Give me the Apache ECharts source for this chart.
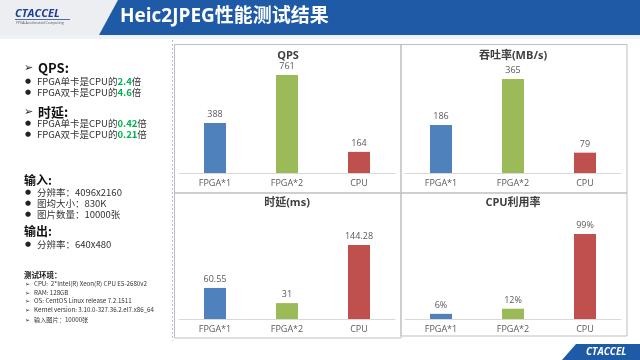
<!DOCTYPE html>
<html><head><meta charset="utf-8">
<script src="https://cdn.jsdelivr.net/npm/echarts@6/dist/echarts.min.js"></script>
<style>html,body{margin:0;padding:0;background:#fff}#c{width:640px;height:360px}</style>
</head><body><div id="c"></div>
<script>
const categories = ['FPGA*1', 'FPGA*2', 'CPU'];
const qps = [388, 761, 164];
const throughput = [186, 365, 79];
const latency = [60.55, 31, 144.28];
const cpuUsage = [6, 12, 99];
const chartTitles = ['QPS', '吞吐率(MB/s)', '时延(ms)', 'CPU利用率'];
const barColors = ['#4F81BD', '#9BBB59', '#C0504D'];

const FONT = '"Open Sans","Noto Sans CJK SC",sans-serif';
const CJK = '"Noto Sans CJK SC",sans-serif';

const chart = echarts.init(document.getElementById('c'), null, {renderer: 'canvas'});

const grids = [
  {left: 179, width: 216, top: 63.5, height: 109.5},
  {left: 405, width: 216, top: 64.8, height: 108.2},
  {left: 179, width: 216, top: 226.7, height: 92.3},
  {left: 405, width: 216, top: 224.6, height: 94.4}
];
const maxes = [850, 420, 180, 110];
const seriesData = [qps, throughput, latency, cpuUsage];
const fmts = ['{c}', '{c}', '{c}', '{c}%'];

const xAxes = grids.map((g, i) => ({
  type: 'category', gridIndex: i, data: categories,
  axisLine: {show: true, lineStyle: {color: '#d9d9d9', width: 1}},
  axisTick: {show: false},
  axisLabel: {color: '#595959', fontSize: 9, fontFamily: FONT, margin: 6},
  splitLine: {show: false}
}));
const yAxes = grids.map((g, i) => ({
  type: 'value', gridIndex: i, min: 0, max: maxes[i], show: false, splitLine: {show: false}
}));
const series = seriesData.map((d, i) => ({
  type: 'bar', xAxisIndex: i, yAxisIndex: i, data: d, barWidth: 22,
  itemStyle: {color: p => barColors[p.dataIndex]},
  label: {show: true, position: 'top', distance: 4, color: '#595959', fontSize: 9, fontFamily: FONT, formatter: fmts[i]}
}));

const titlePos = [[288, 56], [513, 56], [287, 203], [513, 203]];
const g = [];
// header
g.push({type: 'rect', shape: {x: 0, y: 0, width: 640, height: 35}, style: {fill: '#eceef2'}, z: 1});
g.push({type: 'polygon', shape: {points: [[118, 0], [640, 0], [640, 35], [99, 35]]}, style: {fill: '#1f5aa6'}, z: 2});
g.push({type: 'rect', shape: {x: 0, y: 35, width: 640, height: 4}, style: {fill: '#edf2f8'}, z: 1});
g.push({type: 'text', x: 120, y: 17, style: {text: 'Heic2JPEG性能测试结果', fill: '#fff', font: 'bold 19px ' + FONT, textVerticalAlign: 'middle'}, z: 3});
g.push({type: 'text', x: 15, y: 14, style: {text: 'CTACCEL', fill: '#1d3f8f', font: 'italic bold 11px ' + FONT, textVerticalAlign: 'middle'}, z: 3});
g.push({type: 'rect', shape: {x: 15, y: 19, width: 55, height: 0.8}, style: {fill: '#1d3f8f'}, z: 3});
g.push({type: 'text', x: 16, y: 22.5, style: {text: 'FPGA Accelerated Computing', fill: '#555', font: '3.5px ' + FONT, textVerticalAlign: 'middle'}, z: 3});
// footer logo
g.push({type: 'polygon', shape: {points: [[576, 344], [640, 344], [640, 360], [562, 360]]}, style: {fill: '#1f5aa6'}, z: 2});
g.push({type: 'text', x: 586, y: 352, style: {text: 'CTACCEL', fill: '#fff', font: 'italic bold 10px ' + FONT, textVerticalAlign: 'middle'}, z: 3});
// chart panel frames
g.push({type: 'line', shape: {x1: 172.5, y1: 40, x2: 172.5, y2: 341}, style: {stroke: '#a9c0de', lineWidth: 1, lineDash: [2, 2]}, z: 1});
[[174.5, 44.5, 226.5, 148.5], [401, 44.5, 226, 148.5], [174.5, 193, 226.5, 145], [401, 193, 226, 143]].forEach(r => {
  g.push({type: 'rect', shape: {x: r[0], y: r[1], width: r[2], height: r[3]}, style: {fill: 'none', stroke: '#bfbfbf', lineWidth: 1}, z: 1});
});
chartTitles.forEach((t, i) => {
  g.push({type: 'text', x: titlePos[i][0], y: titlePos[i][1], style: {text: t, fill: '#404040', font: 'bold 11px ' + FONT, textAlign: 'center', textVerticalAlign: 'middle'}, z: 3});
});
// left text
const dark = '#222';
function head(txt, x, y, size, arrow) {
  if (arrow) g.push({type: 'text', x: 24, y: y, style: {text: '➢', fill: dark, font: '11px "DejaVu Sans"', textVerticalAlign: 'middle'}, z: 3});
  g.push({type: 'text', x: x, y: y, style: {text: txt, fill: '#111', font: 'bold ' + size + 'px ' + CJK, textVerticalAlign: 'middle'}, z: 3});
}
function bullet(txt, y) {
  g.push({type: 'text', x: 25, y: y, style: {text: '●', fill: dark, font: '7px "DejaVu Sans"', textVerticalAlign: 'middle'}, z: 3});
  g.push({type: 'text', x: 37, y: y, style: {text: txt, fill: '#333', font: '9.5px ' + CJK, textVerticalAlign: 'middle',
    rich: {g: {fill: '#00B050', font: 'bold 9.5px ' + CJK}}}, z: 3});
}
head('QPS:', 38, 68, 13, true);
bullet('FPGA单卡是CPU的{g|2.4}倍', 81);
bullet('FPGA双卡是CPU的{g|4.6}倍', 92);
head('时延:', 38, 112, 13, true);
bullet('FPGA单卡是CPU的{g|0.42}倍', 123);
bullet('FPGA双卡是CPU的{g|0.21}倍', 134);
head('输入:', 24, 180, 12, false);
bullet('分辨率：4096x2160', 192);
bullet('图均大小：830K', 203);
bullet('图片数量：10000张', 214);
head('输出:', 24, 231, 12, false);
bullet('分辨率：640x480', 244);
g.push({type: 'text', x: 24, y: 275, style: {text: '测试环境：', fill: '#111', font: 'bold 7.5px ' + CJK, textVerticalAlign: 'middle'}, z: 3});
const envLines = ['CPU:  2*Intel(R) Xeon(R) CPU E5-2680v2', 'RAM: 128GB', 'OS: CentOS Linux release 7.2.1511', 'Kernel version: 3.10.0-327.36.2.el7.x86_64', '输入图片：10000张'];
const envY = [284, 293, 301, 310, 320];
envLines.forEach((t, i) => {
  g.push({type: 'text', x: 25, y: envY[i], style: {text: '➢', fill: dark, font: '6px "DejaVu Sans"', textVerticalAlign: 'middle'}, z: 3});
  g.push({type: 'text', x: 34, y: envY[i], style: {text: t, fill: '#333', font: '6.2px ' + CJK, textVerticalAlign: 'middle'}, z: 3});
});

chart.setOption({
  animation: false,
  backgroundColor: '#fff',
  grid: grids,
  xAxis: xAxes,
  yAxis: yAxes,
  series: series,
  graphic: {elements: g}
});
</script></body></html>
